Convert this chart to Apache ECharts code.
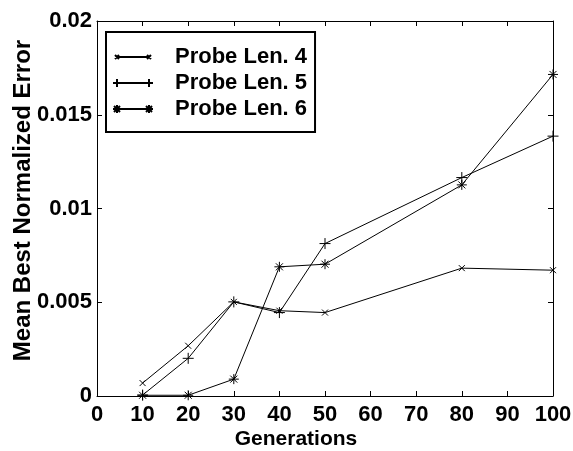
<!DOCTYPE html>
<html>
<head>
	<meta charset="utf-8">
	<script src="https://cdn.jsdelivr.net/npm/echarts@6/dist/echarts.min.js"></script>
	<title>Mean Best Normalized Error</title>
	<style>
		html, body { margin: 0; padding: 0; background: #fff; }
		#main { width: 573px; height: 451px; }
	</style>
</head>
<body>
<div id="main"></div>
<script type="text/javascript">
	var generations = [10, 20, 30, 40, 50, 80, 100];
	var len4 = [0.00069, 0.00268, 0.00502, 0.00455, 0.00445, 0.00682, 0.00671];
	var len5 = [0.00005, 0.00201, 0.00502, 0.00445, 0.00813, 0.01165, 0.01386];
	var len6 = [0.00004, 0.00004, 0.0009, 0.00689, 0.00703, 0.01126, 0.01715];
	var seriesNames = ['Probe Len. 4', 'Probe Len. 5', 'Probe Len. 6'];

	var FONT = '"Liberation Sans", Arial, Helvetica, sans-serif';

	// stroke-only marker shapes
	var markX = 'path://M0,0 L10,10 M10,0 L0,10';
	var markPlus = 'path://M5,0 L5,10 M0,5 L10,5';
	var markStar = 'path://M5,0 L5,10 M0,5 L10,5 M1.5,1.5 L8.5,8.5 M8.5,1.5 L1.5,8.5';

	// legend icons: short line with the marker at both ends (box 40 x 8)
	var iconX = 'path://M2,2 L6,6 M6,2 L2,6 M4,4 L36,4 M34,2 L38,6 M38,2 L34,6 M0,0 L0,0.01 M40,8 L40,7.99';
	var iconPlus = 'path://M4,0 L4,8 M0,4 L40,4 M36,0 L36,8';
	var iconStar = 'path://M4,0 L4,8 M0,4 L40,4 M36,0 L36,8 M1,1 L7,7 M7,1 L1,7 M33,1 L39,7 M39,1 L33,7';

	function pairs(vals) {
		return generations.map(function (g, i) { return [g, vals[i]]; });
	}

	function makeSeries(name, vals, symbol, size) {
		return {
			name: name,
			type: 'line',
			data: pairs(vals),
			symbol: symbol,
			symbolSize: size,
			showAllSymbol: true,
			clip: false,
			lineStyle: { color: '#000', width: 1 },
			itemStyle: { color: '#000', borderColor: '#000', borderWidth: 1 },
			emphasis: { disabled: true },
			animation: false
		};
	}

	var myChart = echarts.init(document.getElementById('main'));

	var tickText = { color: '#000', fontFamily: FONT, fontWeight: 'bold', fontSize: 22 };

	var option = {
		backgroundColor: '#fff',
		animation: false,
		grid: { left: 97, right: 20, top: 21, bottom: 55, outerBoundsMode: 'none', containLabel: false },
		legend: {
			left: 106,
			top: 32,
			orient: 'vertical',
			backgroundColor: '#fff',
			borderColor: '#000',
			borderWidth: 2,
			borderRadius: 0,
			padding: [13, 8, 11, 6],
			itemGap: 2,
			itemWidth: 40,
			itemHeight: 8,
			textStyle: {
				color: '#000', fontFamily: FONT, fontWeight: 'bold', fontSize: 22,
				lineHeight: 24, padding: [0, 0, 0, 17]
			},
			data: [
				{ name: seriesNames[0], icon: iconX },
				{ name: seriesNames[1], icon: iconPlus },
				{ name: seriesNames[2], icon: iconStar }
			]
		},
		xAxis: [
			{
				type: 'value', min: 0, max: 100, interval: 10,
				name: 'Generations', nameLocation: 'middle', nameGap: 33,
				nameMoveOverlap: false,
				nameTextStyle: {
					color: '#000', fontFamily: FONT, fontWeight: 'bold', fontSize: 21,
					padding: [0, 58, 0, 0]
				},
				axisLine: { show: true, onZero: false, lineStyle: { color: '#000', width: 1 } },
				axisTick: { inside: true, length: 5, lineStyle: { color: '#000' } },
				axisLabel: Object.assign({ margin: 8 }, tickText),
				splitLine: { show: false }
			},
			{
				type: 'value', min: 0, max: 100, interval: 10, position: 'top',
				axisLine: { show: true, onZero: false, lineStyle: { color: '#000', width: 1 } },
				axisTick: { inside: true, length: 5, lineStyle: { color: '#000' } },
				axisLabel: { show: false },
				splitLine: { show: false }
			}
		],
		yAxis: [
			{
				type: 'value', min: 0, max: 0.02, interval: 0.005,
				name: 'Mean Best Normalized Error', nameLocation: 'middle', nameGap: 62,
				nameMoveOverlap: false,
				nameTextStyle: {
					color: '#000', fontFamily: FONT, fontWeight: 'bold', fontSize: 24,
					padding: [0, 0, 0, 16]
				},
				axisLine: { show: true, onZero: false, lineStyle: { color: '#000', width: 1 } },
				axisTick: { inside: true, length: 5, lineStyle: { color: '#000' } },
				axisLabel: Object.assign({ margin: 5 }, tickText),
				splitLine: { show: false }
			},
			{
				type: 'value', min: 0, max: 0.02, interval: 0.005, position: 'right',
				axisLine: { show: true, onZero: false, lineStyle: { color: '#000', width: 1 } },
				axisTick: { inside: true, length: 5, lineStyle: { color: '#000' } },
				axisLabel: { show: false },
				splitLine: { show: false }
			}
		],
		series: [
			makeSeries(seriesNames[0], len4, markX, 6),
			makeSeries(seriesNames[1], len5, markPlus, 11),
			makeSeries(seriesNames[2], len6, markStar, 10)
		]
	};
	myChart.setOption(option);
</script>
</body>
</html>
